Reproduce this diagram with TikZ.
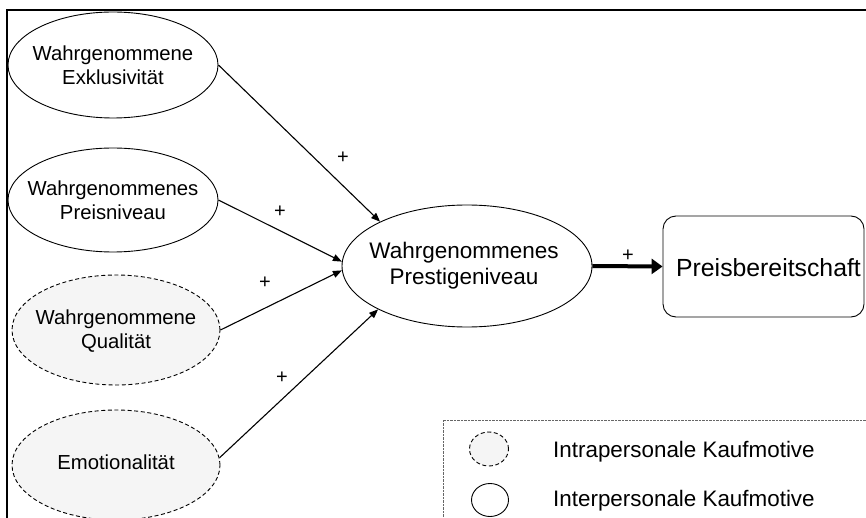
\documentclass[tikz,border=0pt]{standalone}
\usepackage{fontspec}
\setmainfont{Liberation Sans}
\usetikzlibrary{shapes.geometric,arrows.meta}

\begin{document}
\begin{tikzpicture}[x=1pt,y=-1pt,
  motiv/.style={ellipse,draw,line width=0.9pt,inner sep=0pt},
  inter/.style={motiv,fill=white},
  intra/.style={motiv,fill=black!4,dash pattern=on 4pt off 2.6pt},
  lbl/.style={align=center,font=\fontsize{20.3}{23.5}\selectfont,inner sep=0pt},
  plus/.style={font=\fontsize{20}{23}\selectfont,inner sep=0pt},
  link/.style={line width=1.1pt,-{Triangle[length=9pt,width=7pt]}},
  mainlink/.style={line width=4pt,-{Triangle[length=11pt,width=15pt]}},
  legtext/.style={font=\fontsize{22.4}{26}\selectfont,inner sep=0pt,anchor=base west}]
\useasboundingbox (0,0) rectangle (866,518);

% outer frame (only top and left sides fall on the page)
\draw[line width=1.6pt] (7,518) -- (7,10) -- (866,10);

% purchase motives
\node[inter,minimum width=210pt,minimum height=106pt] (e1) at (113,65) {};
\node[lbl] (e1t) at (113,65) {Wahrgenommene\\Exklusivität};
\node[inter,minimum width=210pt,minimum height=104pt] (e2) at (113,200) {};
\node[lbl] (e2t) at (113,200) {Wahrgenommenes\\Preisniveau};
\node[intra,minimum width=208pt,minimum height=110pt] (e3) at (116,330) {};
\node[lbl] (e3t) at (116,331) {Wahrgenommene\\Qualität};
\node[intra,minimum width=208pt,minimum height=110pt] (e4) at (116,465) {};
\node[lbl] (e4t) at (116,462) {Emotionalität};

% central construct
\node[inter,minimum width=250pt,minimum height=122pt] (c) at (467,266) {};
\node[align=center,inner sep=0pt,font=\fontsize{22.5}{26}\selectfont] (ct) at (464,266) {Wahrgenommenes\\Prestigeniveau};

% outcome
\node[draw,line width=0.9pt,rounded corners=13pt,minimum width=201pt,minimum height=101pt,inner sep=0pt] (wtp) at (763.5,266.5) {};
\node[inner sep=0pt,font=\fontsize{24.8}{28}\selectfont] (wtpt) at (768.5,268) {Preisbereitschaft};

% effects
\draw[link] (e1.east) -- (c.153.7);
\draw[link] (e2.east) -- (c.178);
\draw[link] (e3.east) -- (c.182);
\draw[link] (e4.4) -- (c.206.3);
\draw[mainlink] (c.east) -- (wtp.west);

\node[plus] (p1) at (343,158) {+};
\node[plus] (p2) at (280,212) {+};
\node[plus] (p3) at (265,283) {+};
\node[plus] (p4) at (282,378) {+};
\node[plus] (p5) at (628,256) {+};

% legend
\draw[black!60,line width=0.6pt,dash pattern=on 0.7pt off 0.7pt] (866,420) -- (443,420) -- (443,518);
\node[intra,minimum width=39pt,minimum height=34pt] (l1) at (489,449) {};
\node[inter,minimum width=37pt,minimum height=33pt] (l2) at (490,500) {};
\node[legtext] (l1t) at (553,457) {Intrapersonale Kaufmotive};
\node[legtext] (l2t) at (553,506) {Interpersonale Kaufmotive};
\end{tikzpicture}
\end{document}
